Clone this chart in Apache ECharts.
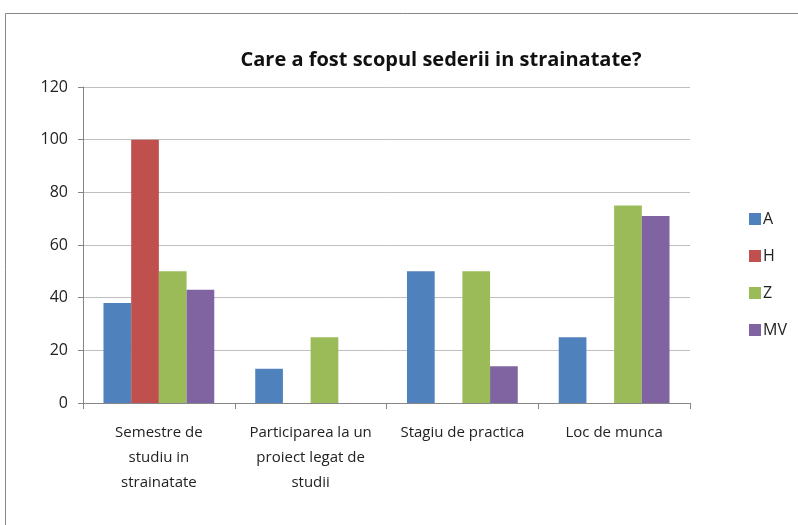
<!DOCTYPE html>
<html>
<head>
<meta charset="utf-8">
<script src="https://cdn.jsdelivr.net/npm/echarts@6/dist/echarts.min.js"></script>
<style>
  html, body { margin: 0; padding: 0; background: #fff; }
  #chart { width: 798px; height: 525px; }
</style>
</head>
<body>
<div id="chart"></div>
<script>
const title = "Care a fost scopul sederii in strainatate?";
const categories = [
  "Semestre de\nstudiu in\nstrainatate",
  "Participarea la un\nproiect legat de\nstudii",
  "Stagiu de practica",
  "Loc de munca",
];
const seriesNames = ["A", "H", "Z", "MV"];
const valuesA = [38, 13, 50, 25];
const valuesH = [100, 0, 0, 0];
const valuesZ = [50, 25, 50, 75];
const valuesMV = [43, 0, 14, 71];
const colors = ["#4F81BD", "#C0504D", "#9BBB59", "#8064A2"];

const font = "'Open Sans', 'Liberation Sans', sans-serif";
const chart = echarts.init(document.getElementById("chart"));

chart.setOption({
  animation: false,
  backgroundColor: "#fff",
  textStyle: { fontFamily: font },
  graphic: [{
    type: "rect",
    shape: { x: 5.5, y: 13.5, width: 900, height: 700 },
    style: { fill: "none", stroke: "#888", lineWidth: 1 },
    silent: true,
  }],
  title: {
    text: title,
    left: 436,
    top: 45,
    textAlign: "center",
    textStyle: { fontFamily: font, fontSize: 20, fontWeight: "bold", color: "#111" },
  },
  legend: {
    orient: "vertical",
    left: 744,
    top: 206,
    itemWidth: 12,
    itemHeight: 12,
    itemGap: 21,
    icon: "rect",
    data: seriesNames,
    textStyle: { fontFamily: font, fontSize: 16, color: "#222", padding: [0, 0, 0, -3] },
  },
  grid: { left: 83, right: 108, top: 87, bottom: 122 },
  xAxis: {
    type: "category",
    data: categories,
    axisLine: { lineStyle: { color: "#868686" } },
    axisTick: { show: true, length: 6, lineStyle: { color: "#868686" } },
    axisLabel: {
      fontFamily: font, fontSize: 15, color: "#222", lineHeight: 25, margin: 17,
      interval: 0,
    },
  },
  yAxis: {
    type: "value",
    min: 0,
    max: 120,
    interval: 20,
    axisLine: { show: true, lineStyle: { color: "#868686" } },
    axisTick: { show: true, length: 5, lineStyle: { color: "#868686" } },
    splitLine: { lineStyle: { color: "#BFBFBF" } },
    axisLabel: { fontFamily: font, fontSize: 16, color: "#222", margin: 15 },
  },
  series: [
    { name: "A", type: "bar", data: valuesA, itemStyle: { color: colors[0] }, barGap: "0%", barCategoryGap: "27%" },
    { name: "H", type: "bar", data: valuesH, itemStyle: { color: colors[1] } },
    { name: "Z", type: "bar", data: valuesZ, itemStyle: { color: colors[2] } },
    { name: "MV", type: "bar", data: valuesMV, itemStyle: { color: colors[3] } },
  ],
});
</script>
</body>
</html>
